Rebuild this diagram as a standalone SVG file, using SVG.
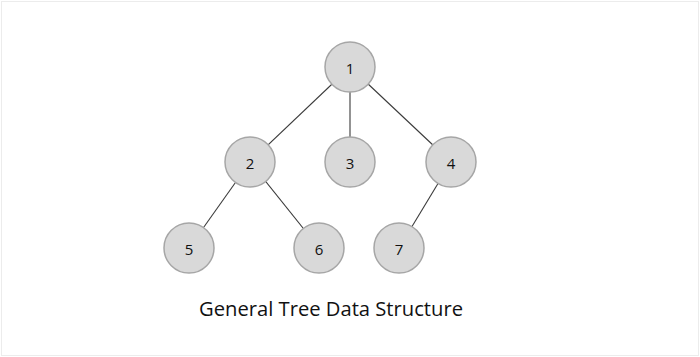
<svg xmlns="http://www.w3.org/2000/svg" width="700" height="357" viewBox="0 0 700 357">
<style>
.node circle{fill:#d9d9d9;stroke:#a6a6a6;stroke-width:1.5}
.node text{font-family:"Open Sans","Liberation Sans",sans-serif;font-size:15px;fill:#111111;text-anchor:middle;dominant-baseline:central}
.edges line{stroke:#3a3a3a;stroke-width:1.1}
.title{font-family:"Open Sans","Liberation Sans",sans-serif;font-size:20px;fill:#111111}
</style>
<rect x="0" y="0" width="700" height="357" fill="#ffffff"/>
<rect x="1.5" y="1.5" width="697" height="354" fill="none" stroke="#ececec" stroke-width="1"/>
<g class="edges">
<line x1="350" y1="67" x2="250" y2="162"/>
<line x1="350" y1="67" x2="350" y2="162"/>
<line x1="350" y1="67" x2="451" y2="162"/>
<line x1="250" y1="162" x2="189" y2="248"/>
<line x1="250" y1="162" x2="319" y2="248"/>
<line x1="451" y1="162" x2="399" y2="248"/>
</g>
<g id="n1" class="node"><circle cx="350" cy="67" r="25"/><text x="350" y="68">1</text></g>
<g id="n2" class="node"><circle cx="250" cy="162" r="25"/><text x="250" y="163">2</text></g>
<g id="n3" class="node"><circle cx="350" cy="162" r="25"/><text x="350" y="163">3</text></g>
<g id="n4" class="node"><circle cx="451" cy="162" r="25"/><text x="451" y="163">4</text></g>
<g id="n5" class="node"><circle cx="189" cy="248" r="25"/><text x="189" y="249">5</text></g>
<g id="n6" class="node"><circle cx="319" cy="248" r="25"/><text x="319" y="249">6</text></g>
<g id="n7" class="node"><circle cx="399" cy="248" r="25"/><text x="399" y="249">7</text></g>
<text class="title" x="199" y="316" textLength="264" lengthAdjust="spacingAndGlyphs">General Tree Data Structure</text>
</svg>
